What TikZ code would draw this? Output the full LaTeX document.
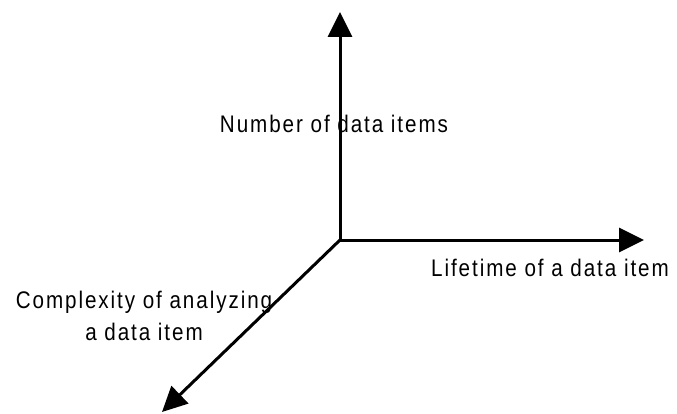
\documentclass[tikz,border=0pt]{standalone}
\usepackage{fontspec}
\setmainfont{Liberation Sans}[FakeStretch=0.86, LetterSpace=8]
\usetikzlibrary{arrows.meta}

\begin{document}
\begin{tikzpicture}
[ x=1pt, y=-1pt
, point/.style={coordinate}
, axis/.style={line width=3pt, -{Triangle[length=25pt, width=24pt]}}
, axislabel/.style={inner sep=0pt, anchor=base, align=center, font=\fontsize{24}{32}\selectfont}
]
\useasboundingbox (0,0) rectangle (677,414);
% Axes:
\node (origin) [point] at (340,240) {};
\node (up) [point] at (340,12) {};
\node (right) [point] at (644,240) {};
\node (down) [point] at (162,412) {};
\draw [axis] (origin) -- (up);
\draw [axis] (origin) -- (right);
\draw [axis] (origin) -- (down);
% Labels:
\node (number) [axislabel] at (334,133) {Number of data items};
\node (lifetime) [axislabel] at (550,276) {Lifetime of a data item};
\node (complexity) [axislabel] at (144,340) {Complexity of analyzing\\a data item};
\end{tikzpicture}
\end{document}
